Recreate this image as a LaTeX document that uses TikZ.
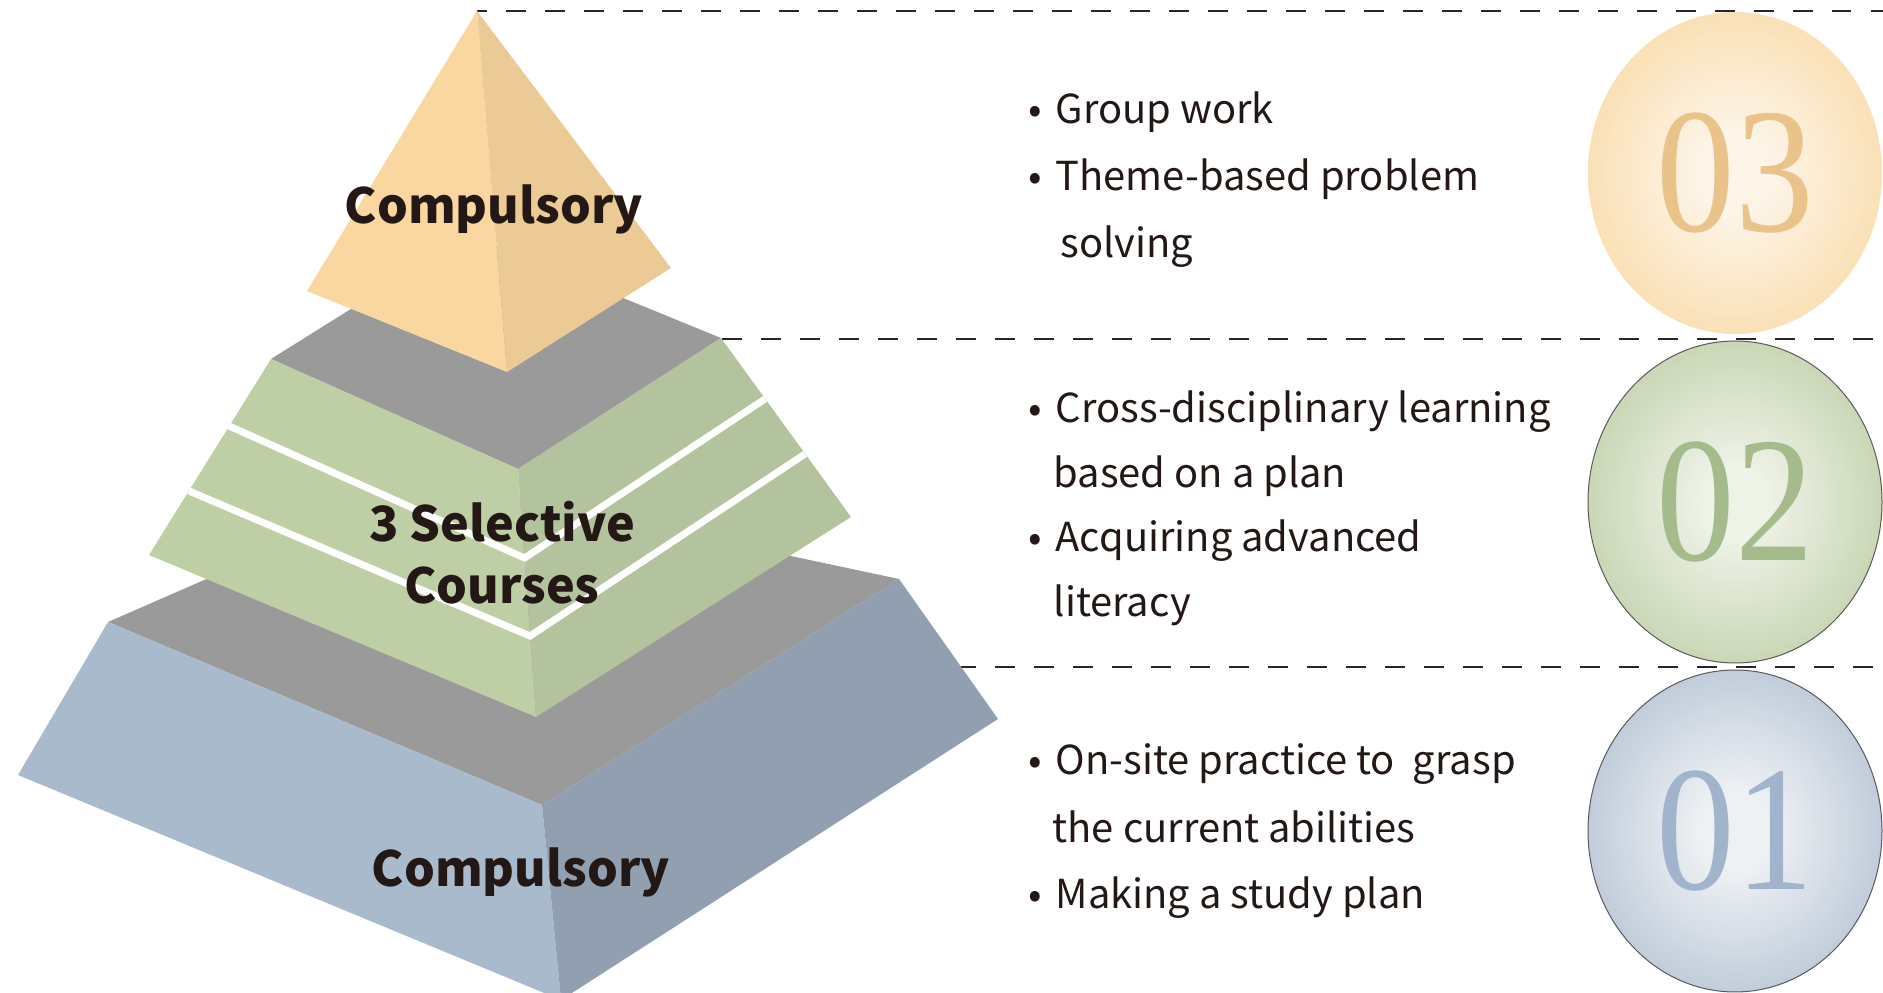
\documentclass[tikz,border=0pt]{standalone}
\usepackage{fontspec}
\usepackage{xcolor}
\usepackage{tikz}
\usetikzlibrary{shapes.geometric,calc}
\setmainfont{Noto Sans CJK KR}
\newfontfamily\numfont{Liberation Serif}[FakeStretch=0.88]

% colours
\definecolor{ink}{HTML}{231815}
\definecolor{topgray}{HTML}{9A9A9A}
\definecolor{orangeL}{HTML}{FAD7A0}
\definecolor{orangeR}{HTML}{EBCA96}
\definecolor{greenL}{HTML}{BFCFA5}
\definecolor{greenR}{HTML}{B2C39D}
\definecolor{blueL}{HTML}{A9BACD}
\definecolor{blueR}{HTML}{919FB0}
\definecolor{ballOin}{HTML}{FDF5E8}
\definecolor{ballOout}{HTML}{F8D293}
\definecolor{ballGin}{HTML}{EEF2E7}
\definecolor{ballGout}{HTML}{B0C595}
\definecolor{ballBin}{HTML}{EEF1F4}
\definecolor{ballBout}{HTML}{A2B4CA}
\definecolor{numO}{HTML}{E9C38A}
\definecolor{numG}{HTML}{A6BB8C}
\definecolor{numB}{HTML}{A1B4CB}

\pgfdeclareradialshading{ballO}{\pgfpoint{0bp}{0bp}}{color(0bp)=(ballOin); color(6bp)=(ballOin); color(38bp)=(ballOout); color(50bp)=(ballOout)}
\pgfdeclareradialshading{ballG}{\pgfpoint{0bp}{0bp}}{color(0bp)=(ballGin); color(6bp)=(ballGin); color(38bp)=(ballGout); color(50bp)=(ballGout)}
\pgfdeclareradialshading{ballB}{\pgfpoint{0bp}{0bp}}{color(0bp)=(ballBin); color(6bp)=(ballBin); color(38bp)=(ballBout); color(50bp)=(ballBout)}

\newcommand\bul{\makebox[2.7mm][l]{•}}

\begin{document}
\begin{tikzpicture}[x=0.1mm, y=-0.1mm,
    item/.style={anchor=base west, inner sep=0pt, text=ink, font=\fontsize{11.35pt}{14pt}\selectfont},
    tierlabel/.style={anchor=base, inner sep=0pt, text=ink, align=center, font=\fontsize{13.8pt}{17.85pt}\selectfont\bfseries},
    ball/.style={ellipse, inner sep=0pt, minimum width=29.4mm, minimum height=32.2mm, font=\numfont\fontsize{50.8pt}{52pt}\selectfont},
    guide/.style={black!85, line width=0.2mm, dash pattern=on 1.95mm off 1.95mm, dash phase=1mm}
  ]
  \clip (0,0) rectangle (1883,993);

  % separators
  \coordinate (d3) at (477,11);
  \coordinate (d2) at (693,339);
  \coordinate (d1) at (693,667);
  \draw[guide] (d3) -- (1883,11);
  \draw[guide] (d2) -- (1883,339);
  \draw[guide] (d1) -- (1883,667);

  % bottom tier
  \coordinate (BL) at (108,622);
  \coordinate (BB) at (433,480);
  \coordinate (BR) at (899,579);
  \coordinate (BF) at (542,805);
  \coordinate (BBL) at (18,775);
  \coordinate (BBF) at (561,1000);
  \coordinate (BBR) at (998,719);
  \fill[topgray] (BL) -- (BB) -- (BR) -- (BF) -- cycle;
  \fill[blueL] (BL) -- (BBL) -- (BBF) -- (BF) -- cycle;
  \fill[blueR] (BF) -- (BBF) -- (BBR) -- (BR) -- cycle;

  % middle tier
  \coordinate (GL) at (271,359);
  \coordinate (GB) at (469,235);
  \coordinate (GR) at (721,338);
  \coordinate (GF) at (518,469);
  \coordinate (GBL) at (149,555);
  \coordinate (GBF) at (536,717);
  \coordinate (GBR) at (851,517);
  \fill[topgray] (GL) -- (GB) -- (GR) -- (GF) -- cycle;
  \fill[greenL] (GL) -- (GBL) -- (GBF) -- (GF) -- cycle;
  \fill[greenR] (GF) -- (GBF) -- (GBR) -- (GR) -- cycle;
  \draw[white, line width=0.7mm] (229,426) -- (524.5,558) -- (765,399);
  \draw[white, line width=0.7mm] (189,491) -- (530,636) -- (805,454);

  % top
  \coordinate (A) at (477,11);
  \coordinate (OL) at (307,291);
  \coordinate (OR) at (671,268);
  \coordinate (OF) at (507,372);
  \fill[orangeL] (A) -- (OL) -- (OF) -- cycle;
  \fill[orangeR] (A) -- (OF) -- (OR) -- cycle;

  \node[tierlabel] (t3) at (494,224) {Compulsory};
  \node[tierlabel] (t2) at (502,604) {3 Selective\\Courses};
  \node[tierlabel] (t1) at (521,886) {Compulsory};

  % number balls
  \node[ball, shading=ballO, text=numO] (b3) at (1735,173) {03};
  \node[ball, shading=ballG, text=numG, draw=black!65, line width=0.1mm] (b2) at (1735,502) {02};
  \node[ball, shading=ballB, text=numB, draw=black!65, line width=0.1mm] (b1) at (1735,831) {01};

  % bullet texts
  \node[item] (i31) at (1028,124) {\bul Group work};
  \node[item] (i32) at (1028,191) {\bul Theme-based problem};
  \node[item] (i33) at (1060,258) {solving};

  \node[item] (i21) at (1028,423) {\bul Cross-disciplinary learning};
  \node[item] (i22) at (1053,488) {based on a plan};
  \node[item] (i23) at (1028,552) {\bul Acquiring advanced};
  \node[item] (i24) at (1053,617) {literacy};

  \node[item] (i11) at (1028,775) {\bul On-site practice to\ \ grasp};
  \node[item] (i12) at (1052,842) {the current abilities};
  \node[item] (i13) at (1028,908) {\bul Making a study plan};
\end{tikzpicture}
\end{document}
